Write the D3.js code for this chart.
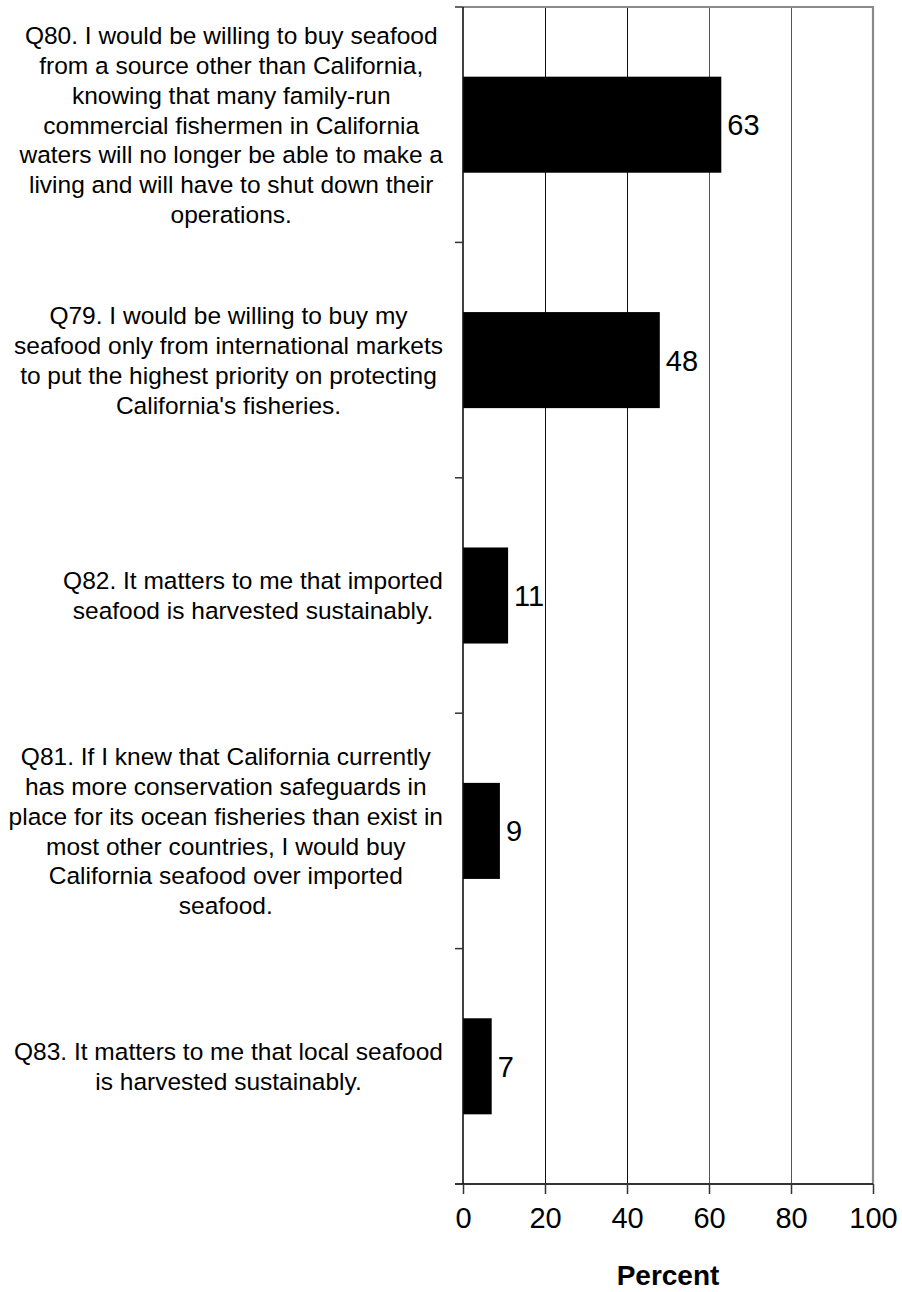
<!DOCTYPE html>
<html>
<head>
<meta charset="utf-8">
<script src="https://cdn.jsdelivr.net/npm/d3@7/dist/d3.min.js"></script>
<style>
  html, body { margin: 0; padding: 0; background: #fff; }
  svg { display: block; }
  text { font-family: "Liberation Sans", Arial, Helvetica, sans-serif; fill: #000; }
</style>
</head>
<body>
<div id="chart"></div>
<script>
// Survey items, top to bottom, with the line breaks used on the category axis
const categories = ["Q80", "Q79", "Q82", "Q81", "Q83"];
const categoryLines = [
  ["Q80. I would be willing to buy seafood",
   "from a source other than California,",
   "knowing that many family-run",
   "commercial fishermen in California",
   "waters will no longer be able to make a",
   "living and will have to shut down their",
   "operations."],
  ["Q79. I would be willing to buy my",
   "seafood only from international markets",
   "to put the highest priority on protecting",
   "California's fisheries."],
  ["Q82. It matters to me that imported",
   "seafood is harvested sustainably."],
  ["Q81. If I knew that California currently",
   "has more conservation safeguards in",
   "place for its ocean fisheries than exist in",
   "most other countries, I would buy",
   "California seafood over imported",
   "seafood."],
  ["Q83. It matters to me that local seafood",
   "is harvested sustainably."]
];
const values = [63, 48, 11, 9, 7];
const xTicks = [0, 20, 40, 60, 80, 100];
const xTitle = "Percent";

const W = 902, H = 1292;
const plot = { left: 463, right: 873, top: 7, bottom: 1184 };

const svg = d3.select("#chart").append("svg")
  .attr("width", W).attr("height", H);

const x = d3.scaleLinear().domain([0, 100]).range([plot.left, plot.right]);
const y = d3.scaleBand().domain(categories)
  .range([plot.top, plot.bottom])
  .paddingInner(0.592).paddingOuter(0.296);
const step = y.step();
const crisp = v => Math.round(v) + 0.5;

// vertical gridlines
svg.append("g").selectAll("line")
  .data(xTicks.filter(t => t > 0 && t < 100))
  .join("line")
  .attr("x1", d => crisp(x(d))).attr("x2", d => crisp(x(d)))
  .attr("y1", plot.top).attr("y2", plot.bottom)
  .attr("stroke", d => d < 50 ? "#111" : "#555").attr("stroke-width", 1);

// plot frame: top and right edges
svg.append("path")
  .attr("d", `M${plot.left},${plot.top}H${plot.right}V${plot.bottom}`)
  .attr("fill", "none").attr("stroke", "#8a8a8a").attr("stroke-width", 2.2);

// bars
svg.append("g").selectAll("rect")
  .data(values)
  .join("rect")
  .attr("x", x(0))
  .attr("y", (d, i) => y(categories[i]))
  .attr("width", d => x(d) - x(0))
  .attr("height", y.bandwidth())
  .attr("fill", "#000");

// value labels
svg.append("g").selectAll("text")
  .data(values)
  .join("text")
  .attr("x", d => x(d) + 6)
  .attr("y", (d, i) => y(categories[i]) + y.bandwidth() / 2 + 10.5)
  .attr("font-size", 29)
  .text(d => d);

// bottom axis
const xAxis = d3.axisBottom(x).tickValues(xTicks).tickSize(10).tickSizeOuter(0).tickPadding(13);
const gx = svg.append("g").attr("transform", `translate(0,${plot.bottom})`).call(xAxis);
gx.select(".domain").remove();
gx.selectAll(".tick line").attr("stroke", "#333").attr("stroke-width", 1.5);
gx.selectAll(".tick text").attr("font-size", 29).attr("font-family", null).attr("fill", "#000");
gx.append("line")
  .attr("x1", plot.left - 8).attr("x2", plot.right)
  .attr("y1", 0).attr("y2", 0)
  .attr("stroke", "#333").attr("stroke-width", 2);

// left axis with ticks at category boundaries
svg.append("line")
  .attr("x1", plot.left).attr("x2", plot.left)
  .attr("y1", plot.top).attr("y2", plot.bottom)
  .attr("stroke", "#111").attr("stroke-width", 1.6);
svg.append("g").selectAll("line")
  .data(d3.range(categories.length))
  .join("line")
  .attr("x1", plot.left - 8).attr("x2", plot.left)
  .attr("y1", i => plot.top + i * step).attr("y2", i => plot.top + i * step)
  .attr("stroke", "#333").attr("stroke-width", 1.5);

// category labels: lines centered within a block whose right edge is fixed
const labelFont = 24.5, lineH = 29.8, blockRight = 443;
const gl = svg.append("g");
categories.forEach((c, i) => {
  const lines = categoryLines[i];
  const cy = y(c) + y.bandwidth() / 2;
  const t = gl.append("text").attr("font-size", labelFont).attr("text-anchor", "middle");
  const spans = t.selectAll("tspan").data(lines).join("tspan")
    .attr("y", (d, k) => cy + (k - (lines.length - 1) / 2) * lineH + labelFont * 0.36)
    .text(d => d);
  let maxW = 0;
  spans.each(function () { maxW = Math.max(maxW, this.getComputedTextLength()); });
  spans.attr("x", blockRight - maxW / 2);
});

// axis title
svg.append("text")
  .attr("x", (plot.left + plot.right) / 2)
  .attr("y", 1285)
  .attr("text-anchor", "middle")
  .attr("font-size", 28)
  .attr("font-weight", "bold")
  .text(xTitle);
</script>
</body>
</html>
